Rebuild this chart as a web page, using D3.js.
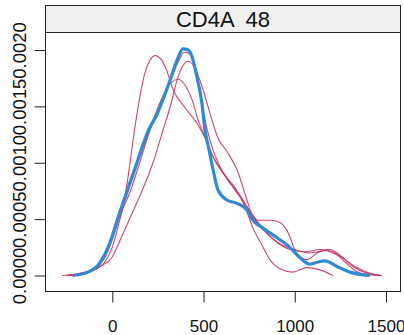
<!DOCTYPE html>
<html>
<head>
<meta charset="utf-8">
<script src="https://cdn.jsdelivr.net/npm/d3@7"></script>
<style>
  body { margin: 0; background: #fff; }
  svg { display: block; font-family: "Liberation Sans", Arial, sans-serif; }
</style>
</head>
<body>
<div id="chart"><svg></svg></div>
<script>
// panel title
const panelTitle = "CD4A  48";

// axis ticks
const xTicks = [0, 500, 1000, 1500];
const yTicks = [0, 0.0005, 0.001, 0.0015, 0.002];
const yTickLabels = ["0.0000", "0.0005", "0.0010", "0.0015", "0.0020"];

// pooled density (thick blue)
const pooledX = [-215, -133, -78, -40, -2, 31, 81, 135, 168, 196, 245, 316, 355, 387, 415, 437, 464, 491, 508, 527, 552, 579, 628, 683, 738, 771, 826, 880, 973, 1028, 1083, 1127, 1166, 1232, 1303, 1374, 1412];
const pooledY = [0, 0.00003, 0.00009, 0.00019, 0.00034, 0.00051, 0.00075, 0.001, 0.00116, 0.00128, 0.00143, 0.00173, 0.00191, 0.00201, 0.002, 0.00194, 0.00176, 0.00153, 0.00129, 0.00114, 0.00094, 0.00076, 0.00067, 0.00064, 0.00058, 0.00049, 0.00042, 0.00036, 0.00025, 0.00016, 0.0001, 0.00012, 0.00013, 0.00008, 0.00003, 0.000005, 0];

// individual densities (thin red)
const rep1X = [-251, -177, -95, -40, -2, 31, 70, 97, 119, 141, 179, 207, 234, 271, 298, 333, 398, 464, 508, 563, 607, 672, 727, 771, 820, 864, 919, 990, 1067, 1138, 1210];
const rep1Y = [0, 0.00001, 0.00005, 0.00012, 0.00024, 0.00043, 0.0007, 0.001, 0.00126, 0.00149, 0.0018, 0.00191, 0.00195, 0.00191, 0.00182, 0.00165, 0.00149, 0.00135, 0.00122, 0.00102, 0.00091, 0.00078, 0.00061, 0.00042, 0.00027, 0.00014, 0.00006, 0.00003, 0.00007, 0.00005, 0];

const rep2X = [-204, -122, -67, -24, 15, 70, 135, 196, 250, 289, 322, 360, 398, 437, 470, 508, 546, 602, 672, 738, 809, 891, 973, 1056, 1138, 1209, 1275, 1346, 1412, 1467];
const rep2Y = [0, 0.00003, 0.0001, 0.00024, 0.00045, 0.00067, 0.00098, 0.00125, 0.00149, 0.00163, 0.00171, 0.00174, 0.00169, 0.00156, 0.00138, 0.00123, 0.00107, 0.00092, 0.00076, 0.00061, 0.00045, 0.00031, 0.00023, 0.00021, 0.00023, 0.00021, 0.00012, 0.00003, 0.000005, 0];

const rep3X = [-243, -150, -67, -2, 53, 108, 152, 223, 278, 316, 360, 387, 415, 453, 497, 535, 579, 628, 683, 738, 765, 798, 864, 919, 957, 1017, 1067, 1122, 1193, 1248, 1319, 1396, 1478];
const rep3Y = [0, 0.00002, 0.00008, 0.00016, 0.00035, 0.00055, 0.00071, 0.001, 0.00129, 0.00149, 0.00176, 0.00186, 0.0019, 0.00184, 0.00165, 0.00144, 0.00122, 0.0011, 0.00094, 0.00067, 0.00054, 0.00049, 0.00049, 0.00047, 0.0004, 0.00018, 0.00014, 0.0002, 0.00023, 0.00018, 0.00008, 0.00002, 0];

const rep4X = [-275, -177, -95, -40, -2, 42, 97, 152, 207, 261, 316, 360, 393, 420, 448, 475, 503, 535, 574, 628, 700, 771, 837, 919, 1000, 1083, 1166, 1248, 1330, 1412, 1478];
const rep4Y = [0, 0.00002, 0.00007, 0.00016, 0.00031, 0.00053, 0.00074, 0.00101, 0.00129, 0.00149, 0.00172, 0.00189, 0.00198, 0.00197, 0.00189, 0.00169, 0.00142, 0.0012, 0.00102, 0.00086, 0.00071, 0.00052, 0.00039, 0.00028, 0.00023, 0.0002, 0.00022, 0.00017, 0.00008, 0.00002, 0];

const replicates = [[rep1X, rep1Y], [rep2X, rep2Y], [rep3X, rep3Y], [rep4X, rep4Y]];

function chart() {
    let svg = d3.select("#chart svg").attr("width", 404).attr("height", 335);
    svg.selectAll("*").remove();

    let box = {left: 45.5, right: 400.5, top: 5.5, strip: 32.5, bottom: 291.5};

    let x = d3.scaleLinear().domain([0, 1500]).range([112.3, 386]);
    let y = d3.scaleLinear().domain([0, 0.002]).range([275.5, 50]);

    // strip
    svg.append("rect")
        .attr("x", box.left).attr("y", box.top)
        .attr("width", box.right - box.left).attr("height", box.strip - box.top)
        .attr("fill", "#f0f0f0").attr("stroke", "#222");

    svg.append("text")
        .attr("x", (box.left + box.right) / 2)
        .attr("y", 27)
        .attr("text-anchor", "middle")
        .attr("font-size", 22)
        .attr("fill", "#111")
        .style("white-space", "pre")
        .text(panelTitle);

    let line = d3.line()
        .x(d => x(d[0]))
        .y(d => y(d[1]))
        .curve(d3.curveMonotoneX);

    let toPoints = (xs, ys) => xs.map((v, i) => [v, ys[i]]);

    svg.append("g")
        .selectAll("path")
        .data(replicates)
        .enter().append("path")
        .attr("d", d => line(toPoints(d[0], d[1])))
        .attr("fill", "none")
        .attr("stroke", "#c8325f")
        .attr("stroke-opacity", 0.9)
        .attr("stroke-width", 1.1);

    svg.append("path")
        .attr("d", line(toPoints(pooledX, pooledY)))
        .attr("fill", "none")
        .attr("stroke", "#2f8ad6")
        .attr("stroke-width", 3.2)
        .attr("stroke-linejoin", "round");

    // panel border
    svg.append("rect")
        .attr("x", box.left).attr("y", box.strip)
        .attr("width", box.right - box.left).attr("height", box.bottom - box.strip)
        .attr("fill", "none").attr("stroke", "#222");

    let xAxis = svg.append("g")
        .attr("transform", "translate(0," + box.bottom + ")")
        .call(d3.axisBottom(x).tickValues(xTicks).tickSize(11).tickPadding(17).tickFormat(d3.format("d")));

    let yAxis = svg.append("g")
        .attr("transform", "translate(" + box.left + ",0)")
        .call(d3.axisLeft(y).tickValues(yTicks).tickSize(11).tickFormat((d, i) => yTickLabels[i]));

    [xAxis, yAxis].forEach(a => {
        a.select(".domain").remove();
        a.selectAll("line").attr("stroke", "#222");
        a.selectAll("text").attr("font-size", 17).attr("fill", "#111")
            .attr("font-family", "'Liberation Sans', Arial, sans-serif");
    });

    yAxis.selectAll("text")
        .attr("font-size", 18.5)
        .attr("transform", "rotate(-90)")
        .attr("x", 0)
        .attr("y", -20)
        .attr("dy", 0)
        .attr("text-anchor", "middle");
}

chart();
</script>
</body>
</html>
